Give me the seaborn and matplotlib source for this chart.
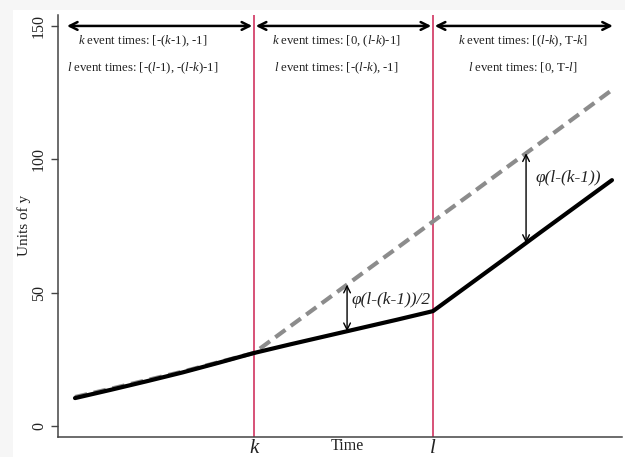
import matplotlib
matplotlib.use("Agg")
import matplotlib.pyplot as plt
import seaborn as sns
import pandas as pd
from matplotlib.transforms import blended_transform_factory
from matplotlib.patches import Rectangle

# ---- data ----
times = [0, 2, 4, 6, 8, 10, 12, 14, 16, 18, 20, 22, 24, 26, 28, 30]
observed = [10.5, 13.6, 16.8, 20.1, 23.7, 27.4, 30.6, 33.7, 36.8, 39.9, 43.1,
            52.9, 62.7, 72.6, 82.4, 92.2]
counterfactual = [10.9, 14.0, 17.2, 20.4, 23.9, 27.4, 37.3, 47.1, 57.0, 66.8, 76.7,
                  86.5, 96.4, 106.2, 116.1, 126.0]
k_time = 10
l_time = 20
x_tick_labels = ["k", "l"]
y_ticks = [0, 50, 100, 150]
row1_labels = ["$k$ event times: [-($k$-$1$), -1]",
               "$k$ event times: [0, ($l$-$k$)-1]",
               "$k$ event times: [($l$-$k$), T-$k$]"]
row2_labels = ["$l$ event times: [-($l$-$1$), -($l$-$k$)-1]",
               "$l$ event times: [-($l$-$k$), -1]",
               "$l$ event times: [0, T-$l$]"]
gap_half_time = 15.2
gap_full_time = 25.2

sns.set_style("white")
plt.rcParams["font.family"] = ["Liberation Serif", "DejaVu Serif"]
plt.rcParams["mathtext.fontset"] = "custom"
plt.rcParams["mathtext.rm"] = "Liberation Serif"
plt.rcParams["mathtext.it"] = "Liberation Serif:italic"

df_obs = pd.DataFrame({"time": times, "y": observed})
df_cf = pd.DataFrame({"time": times, "y": counterfactual})

fig = plt.figure(figsize=(6.25, 4.57), dpi=100, facecolor="#f6f6f6")
bg = Rectangle((13 / 625, 0), 1, 1 - 10 / 457, transform=fig.transFigure,
               facecolor="white", edgecolor="none", zorder=-10)
fig.add_artist(bg)
ax = fig.add_axes([58 / 625, 1 - 436.5 / 457, (622 - 58) / 625, (436.5 - 15) / 457])
ax.set_zorder(5)
ax.set_facecolor("white")

sns.lineplot(data=df_cf, x="time", y="y", ax=ax, color="#8c8c8c", lw=3,
             linestyle=(0, (3, 1.6)), zorder=2)
sns.lineplot(data=df_obs, x="time", y="y", ax=ax, color="black", lw=3, zorder=3)

ax.axvline(k_time, color="#d4436c", lw=1.3, zorder=1)
ax.axvline(l_time, color="#d4436c", lw=1.3, zorder=1)

ax.set_xlim(-0.95, 30.56)
ax.set_ylim(-3.9, 154.1)

ax.set_yticks(y_ticks)
ax.set_yticklabels([str(v) for v in y_ticks], rotation=90, va="center", fontsize=11.5)
ax.tick_params(axis="y", left=True, length=5, width=1, color="#444444", pad=3,
               labelcolor="#222222")
ax.set_xticks([k_time, l_time])
ax.set_xticklabels(x_tick_labels, fontstyle="italic", fontsize=15, color="#222222")
ax.tick_params(axis="x", bottom=False, length=0, pad=2)

ax.set_xlabel("")
ax.set_ylabel("Units of y", fontsize=11, color="#222222", labelpad=0)
trans = blended_transform_factory(ax.transData, ax.transAxes)
ax.text(15.2, -0.022, "Time", transform=trans, ha="center", va="center",
        fontsize=11.5, color="#222222")

for side in ["top", "right"]:
    ax.spines[side].set_visible(False)
for side in ["left", "bottom"]:
    ax.spines[side].set_color("#444444")
    ax.spines[side].set_linewidth(1.1)

# top segment arrows
segments = [(-0.45, 9.9), (10.1, 19.9), (20.1, 30.05)]
for a, b in segments:
    ax.annotate("", xy=(b, 150), xytext=(a, 150),
                arrowprops=dict(arrowstyle="<->", color="black", lw=1.8,
                                mutation_scale=14, shrinkA=0, shrinkB=0))

centers = [3.8, 14.58, 25.03]
for c, r1, r2 in zip(centers, row1_labels, row2_labels):
    ax.text(c, 144.4, r1, ha="center", va="center", fontsize=9.2, color="#222222")
    ax.text(c, 134.3, r2, ha="center", va="center", fontsize=9.2, color="#222222")

# gap arrows
def interp(t, xs, ys):
    for i in range(len(xs) - 1):
        if xs[i] <= t <= xs[i + 1]:
            f = (t - xs[i]) / (xs[i + 1] - xs[i])
            return ys[i] + f * (ys[i + 1] - ys[i])
    return ys[-1]

for t in [gap_half_time, gap_full_time]:
    lo = interp(t, times, observed)
    hi = interp(t, times, counterfactual)
    ax.annotate("", xy=(t, hi), xytext=(t, lo),
                arrowprops=dict(arrowstyle="<->", color="black", lw=1.0,
                                mutation_scale=12, shrinkA=0, shrinkB=0))

ax.text(15.47, 47.2, "φ(l-(k-1))/2", fontstyle="italic", fontsize=12.5,
        ha="left", va="center", color="#222222")
ax.text(25.7, 93.0, "φ(l-(k-1))", fontstyle="italic", fontsize=12.5,
        ha="left", va="center", color="#222222")

fig.savefig("out.png", dpi=100, facecolor=fig.get_facecolor())
